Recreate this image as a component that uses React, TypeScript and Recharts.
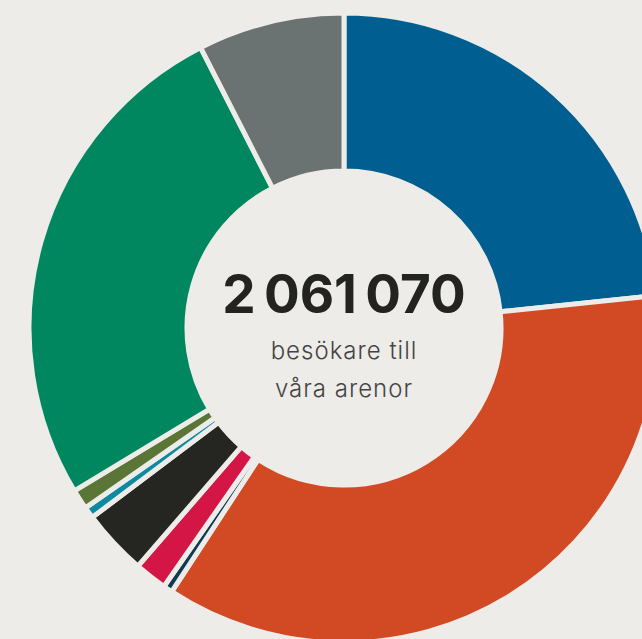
import { PieChart, Pie, Cell } from 'recharts'

const arenas = ['Arena 1', 'Arena 2', 'Arena 3', 'Arena 4', 'Arena 5', 'Arena 6', 'Arena 7', 'Arena 8', 'Arena 9']
const visitors = [481260, 739100, 9800, 34400, 69700, 12200, 21200, 538400, 155000]
const colors = ['#005F90', '#D14A24', '#0F3B52', '#D31645', '#252621', '#0C8AA0', '#5A7535', '#008760', '#6B7272']

const totalLabel = '2\u202F061\u202F070'
const subLabel = ['besökare till', 'våra arenor']

const data = arenas.map((name, i) => ({ name, value: visitors[i] }))

const BG = '#EDECE8'

export default function App() {
    return (
        <div style={{ position: 'fixed', left: 0, top: 0, width: 642, height: 639, background: BG, overflow: 'hidden' }}>
            <PieChart width={642} height={639} margin={{ top: 0, right: 0, bottom: 0, left: 0 }}>
                <Pie
                    data={data}
                    dataKey="value"
                    nameKey="name"
                    cx={344}
                    cy={328}
                    innerRadius={157}
                    outerRadius={315}
                    startAngle={90}
                    endAngle={-270}
                    stroke={BG}
                    strokeWidth={5}
                    isAnimationActive={false}
                >
                    {data.map((d, i) => (
                        <Cell key={d.name} fill={colors[i]} />
                    ))}
                </Pie>
            </PieChart>
            <div style={{ position: 'absolute', left: 344 - 150, width: 300, top: 261, textAlign: 'center', fontFamily: 'Inter, sans-serif' }}>
                <div style={{ fontSize: 53, fontWeight: 700, color: '#23241F', lineHeight: '66px', letterSpacing: -2 }}>{totalLabel}</div>
                <div style={{ fontSize: 24, fontWeight: 300, color: '#444', lineHeight: '38px', marginTop: 5, letterSpacing: 1 }}>
                    {subLabel[0]}
                    <br />
                    {subLabel[1]}
                </div>
            </div>
        </div>
    )
}
